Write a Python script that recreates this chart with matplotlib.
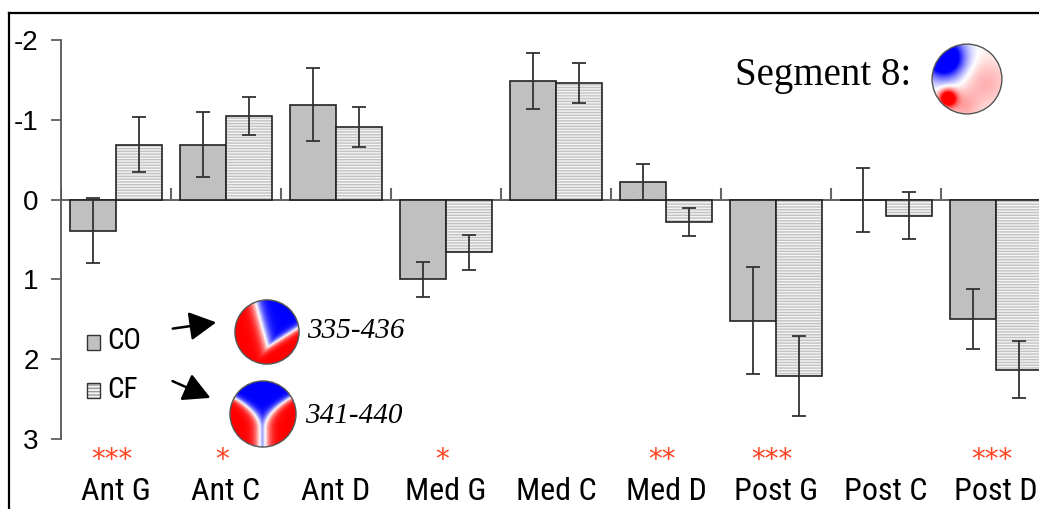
import matplotlib
matplotlib.use("Agg")
import matplotlib.pyplot as plt
import matplotlib.font_manager as fm
import numpy as np
from matplotlib.patches import Circle, Rectangle, FancyArrowPatch
from matplotlib.lines import Line2D

plt.rcParams["axes.unicode_minus"] = False
plt.rcParams["hatch.linewidth"] = 1.0

W, H = 1039, 509

# ---- data ----
regions = ["Ant G", "Ant C", "Ant D", "Med G", "Med C", "Med D", "Post G", "Post C", "Post D"]
co_mean = [0.39, -0.69, -1.19, 1.00, -1.49, -0.22, 1.52, 0.00, 1.50]
co_err = [0.41, 0.41, 0.46, 0.22, 0.35, 0.22, 0.67, 0.40, 0.375]
cf_mean = [-0.69, -1.05, -0.91, 0.66, -1.46, 0.28, 2.21, 0.20, 2.13]
cf_err = [0.35, 0.24, 0.25, 0.22, 0.25, 0.18, 0.50, 0.29, 0.36]
signif = ["***", "*", "", "*", "", "**", "***", "", "***"]
yticks = [-2, -1, 0, 1, 2, 3]

SERIF = ["Liberation Serif", "DejaVu Serif"]


def narrow_family():
    # use a condensed sans if one is installed, else plain Liberation Sans
    for name in ["Liberation Sans Narrow", "Roboto Condensed", "Open Sans Condensed"]:
        try:
            fm.findfont(fm.FontProperties(family=name), fallback_to_default=False)
            return [name, "DejaVu Sans"], 23, 21
        except ValueError:
            pass
    return ["Liberation Sans", "DejaVu Sans"], 20, 17


SANS, LABEL_SIZE, LEGEND_SIZE = narrow_family()


def fx(px):
    return px / W


def fy(py):
    return 1 - py / H


fig = plt.figure(figsize=(W / 100, H / 100), dpi=100)
ax = fig.add_axes([fx(61), fy(439), fx(W - 61), (439 - 40) / H])

x = np.arange(len(regions))
bw = 0.42
off = 0.21

# CO bars: plain grey
ax.bar(x - off, co_mean, bw, color="#c0c0c0", edgecolor="#222222", lw=1.2, zorder=2)
# CF bars: fine horizontal stripes, outline drawn separately
ax.bar(x + off, cf_mean, bw, color="#f4f4f4", edgecolor="#c2c2c2", hatch="------", lw=0, zorder=2)
ax.bar(x + off, cf_mean, bw, fill=False, edgecolor="#222222", lw=1.2, zorder=3)

ax.errorbar(x - off, co_mean, yerr=co_err, fmt="none", ecolor="#333333",
            elinewidth=1.3, capsize=5, capthick=1.3, zorder=4)
ax.errorbar(x + off, cf_mean, yerr=cf_err, fmt="none", ecolor="#333333",
            elinewidth=1.3, capsize=5, capthick=1.3, zorder=4)

ax.axhline(0, color="#555555", lw=1.3, zorder=1)
ax.vlines(np.arange(-0.5, len(regions) - 0.5), 0, -0.14, color="#666666", lw=1.5, zorder=1)

ax.set_xlim(-0.5, -0.5 + (W - 61) / 110)
ax.set_ylim(3, -2)
ax.set_yticks(yticks)
ax.set_yticklabels([str(t) for t in yticks], family=["Liberation Sans", "DejaVu Sans"], fontsize=20)
ax.tick_params(axis="y", length=7, width=1.2, color="#555555", pad=9)
ax.set_xticks(x)
ax.set_xticklabels(regions, family=SANS, fontsize=LABEL_SIZE)
ax.tick_params(axis="x", length=0, pad=27)
for s in ["top", "right", "bottom"]:
    ax.spines[s].set_visible(False)
ax.spines["left"].set_color("#555555")
ax.spines["left"].set_linewidth(1.3)
ax.patch.set_alpha(0)

# significance stars under the axis
star_y = -(460 - 439) / (439 - 40)
for i, s in enumerate(signif):
    if s:
        ax.text(i - 0.04, star_y, s, transform=ax.get_xaxis_transform(), ha="center", va="center",
                color="#ff4422", fontsize=20, family="DejaVu Sans")

# outer frame (left and top edges)
fig.add_artist(Line2D([fx(9), fx(9)], [0, fy(13)], transform=fig.transFigure, color="k", lw=1.6))
fig.add_artist(Line2D([fx(9), 1], [fy(13), fy(13)], transform=fig.transFigure, color="k", lw=1.6))

# legend
fig.add_artist(Rectangle((fx(87), fy(350)), fx(13), 15 / H, transform=fig.transFigure,
                         facecolor="#c0c0c0", edgecolor="#333333", lw=1))
fig.add_artist(Rectangle((fx(87), fy(398)), fx(13), 15 / H, transform=fig.transFigure,
                         facecolor="#f4f4f4", edgecolor="#999999", hatch="-----", lw=0))
fig.add_artist(Rectangle((fx(87), fy(398)), fx(13), 15 / H, transform=fig.transFigure,
                         fill=False, edgecolor="#333333", lw=1))
fig.text(fx(107), fy(349), "CO", family=SANS, fontsize=LEGEND_SIZE, va="baseline")
fig.text(fx(107), fy(398), "CF", family=SANS, fontsize=LEGEND_SIZE, va="baseline")

for (x0, y0), (x1, y1) in [((170, 329), (219, 322)), ((170, 380), (213, 399))]:
    fig.add_artist(FancyArrowPatch((fx(x0), fy(y0)), (fx(x1), fy(y1)), transform=fig.transFigure,
                                   arrowstyle="-|>,head_length=0.75,head_width=0.4",
                                   mutation_scale=22, color="k", lw=1.8))


# scalp maps
g = np.linspace(-1, 1, 240)
X, Y = np.meshgrid(g, g)


def field(kind):
    if kind == "co":
        xl = -0.4 + (1 - Y) / 1.45 * 0.4
        xr = 0.05 + (Y + 0.45) / 0.6 * 0.95
        f = np.maximum(xl - X, X - xr)
        f = np.maximum(f, -0.45 - Y)
        return np.tanh(f * 4.5)
    if kind == "cf":
        w = 0.08 + 0.9 * np.clip(Y + 0.45, 0, 1.6) ** 2
        f = np.abs(X + 0.03) - w
        return np.tanh(f * 5)
    v = 0.3 * np.exp(-((X - 0.55) ** 2 + (Y + 0.1) ** 2) / 0.5)
    v += 0.3 * np.exp(-((X + 0.1) ** 2 + (Y + 0.8) ** 2) / 0.2)
    v -= 1.8 * np.exp(-((X + 0.65) ** 2 + (Y - 0.6) ** 2) / 0.3)
    v += 1.6 * np.exp(-((X + 0.55) ** 2 + (Y + 0.55) ** 2) / 0.06)
    return np.clip(v, -1, 1)


def scalp(cx, cy, r, kind):
    a = fig.add_axes([fx(cx - r - 2), fy(cy + r + 2), fx(2 * r + 4), (2 * r + 4) / H])
    im = a.imshow(field(kind), extent=(-1, 1, -1, 1), origin="lower", cmap="bwr",
                  vmin=-1, vmax=1, interpolation="bilinear")
    c = Circle((0, 0), 1, transform=a.transData)
    im.set_clip_path(c)
    a.add_patch(Circle((0, 0), 1, fill=False, ec="#555555", lw=1))
    a.set_xlim(-1.06, 1.06)
    a.set_ylim(-1.06, 1.06)
    a.axis("off")


scalp(267, 332, 32, "co")
scalp(263, 414, 33, "cf")
scalp(967, 79, 35, "seg")

fig.text(fx(307), fy(338), "335-436", family=SERIF, style="italic", fontsize=21, va="baseline")
fig.text(fx(305), fy(423), "341-440", family=SERIF, style="italic", fontsize=21, va="baseline")
fig.text(fx(735), fy(85), "Segment 8:", family=SERIF, fontsize=28, va="baseline")

fig.savefig("out.png", dpi=100)
